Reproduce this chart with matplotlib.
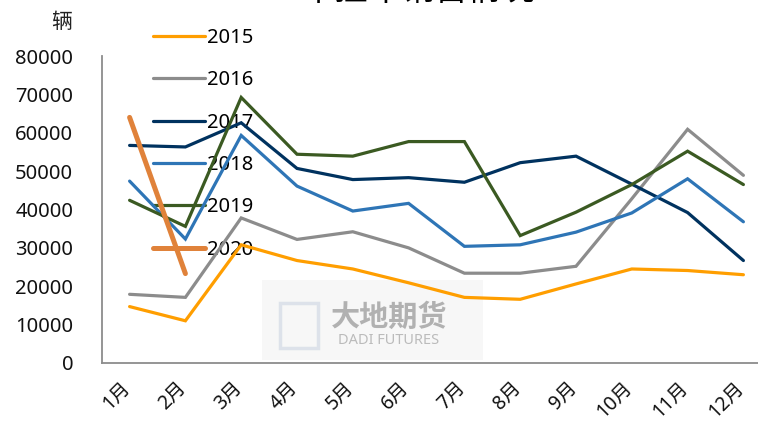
import matplotlib
matplotlib.use("Agg")
import matplotlib.pyplot as plt
import matplotlib.transforms as mtransforms
from matplotlib.patches import Rectangle

months = ["1月", "2月", "3月", "4月", "5月", "6月", "7月", "8月", "9月", "10月", "11月", "12月"]
s2015 = [14700, 11000, 30800, 26700, 24500, 20900, 17100, 16600, 20600, 24500, 24100, 23000]
s2016 = [17900, 17100, 37800, 32200, 34200, 30000, 23400, 23400, 25200, 42800, 60900, 48900]
s2017 = [56700, 56300, 62600, 50700, 47800, 48300, 47100, 52200, 53900, 46600, 39200, 26700]
s2018 = [47400, 32300, 59300, 46100, 39600, 41600, 30400, 30800, 34100, 39100, 48000, 36800]
s2019 = [42400, 35600, 69200, 54400, 53900, 57700, 57700, 33200, 39300, 46500, 55200, 46500]
s2020 = [64000, 23300]
years = ["2015", "2016", "2017", "2018", "2019", "2020"]
title = "半挂车销售情况"
ylabel = "辆"
yticks = [0, 10000, 20000, 30000, 40000, 50000, 60000, 70000, 80000]

colors = ["#FF9E00", "#8C8C8C", "#00325F", "#2E75B6", "#3B5A22", "#E0823A"]
widths = [2.3, 2.3, 2.3, 2.3, 2.3, 3.6]
FAM = ["Noto Sans", "Noto Sans CJK SC"]
plt.rcParams["font.family"] = FAM

W, H = 758, 421
fig = plt.figure(figsize=(W / 100, H / 100), dpi=100)
ax = fig.add_axes([101.7 / W, 58 / H, 669.6 / W, 307 / H])

x = list(range(len(months)))
series = [s2015, s2016, s2017, s2018, s2019, s2020]
handles = []
for i, (s, c, lw, lab) in enumerate(zip(series, colors, widths, years)):
    h, = ax.plot(x[:len(s)], s, color=c, lw=lw, label=lab, solid_capstyle="round",
                 solid_joinstyle="miter", zorder=3 + (1 if i == 5 else 0))
    handles.append(h)

ax.set_xlim(-0.5, 11.5)
ax.set_ylim(0, 80000)
ax.set_yticks(yticks)
ax.set_yticklabels([str(v) for v in yticks], fontsize=14.5, color="#111111")
ax.tick_params(axis="y", length=0, pad=20.5)
ax.set_xticks(x)
ax.set_xticklabels(months, fontsize=14, rotation=45, ha="right", va="top",
                   color="#111111", family=FAM)
ax.tick_params(axis="x", length=0, pad=11)
offset = mtransforms.ScaledTranslation(5 / 100, 0, fig.dpi_scale_trans)
for lbl in ax.get_xticklabels():
    lbl.set_transform(lbl.get_transform() + offset)

for sp in ["top", "right"]:
    ax.spines[sp].set_visible(False)
for sp in ["left", "bottom"]:
    ax.spines[sp].set_color("#8C8C8C")
    ax.spines[sp].set_linewidth(1.3)

# watermark (under the lines)
ax.add_patch(Rectangle((262 / W, (H - 360) / H), 221 / W, 80 / H,
                       transform=fig.transFigure, facecolor="#F7F7F7",
                       edgecolor="none", zorder=0.5, clip_on=False))
ax.add_patch(Rectangle((280 / W, (H - 348) / H), 38 / W, 45 / H,
                       transform=fig.transFigure, facecolor="none",
                       edgecolor="#DDE2EA", lw=2.5, zorder=0.6, clip_on=False))
ax.text(389 / W, 1 - 317 / H, "大地期货", fontsize=21, color="#A0A0A0", ha="center",
        va="center", family=["Noto Sans CJK SC"], weight="bold", alpha=0.8, zorder=0.7,
        transform=fig.transFigure)
ax.text(389 / W, 1 - 341 / H, "DADI FUTURES", fontsize=10.5, color="#B5B5B5",
        ha="center", va="center", weight="bold", alpha=0.9, zorder=0.7,
        transform=fig.transFigure)

leg = ax.legend(handles=handles, loc="upper left", bbox_to_anchor=(153 / W, 1 - 28 / H),
                bbox_transform=fig.transFigure, frameon=False, fontsize=14.5,
                handlelength=2.6, handletextpad=0.1, labelspacing=1.11, borderpad=0,
                borderaxespad=0)
leg.set_zorder(2)

fig.text(62 / W, 1 - 22 / H, ylabel, fontsize=15, ha="center", va="center",
         color="#222222", family=["Noto Sans CJK SC"])
# title is partly cut off at the top edge, as in the reference
fig.text(418 / W, 1 - 8 / H, title, fontsize=24, ha="center", va="bottom",
         color="#000000", family=["Noto Sans CJK SC"])

fig.savefig("out.png", dpi=100)
